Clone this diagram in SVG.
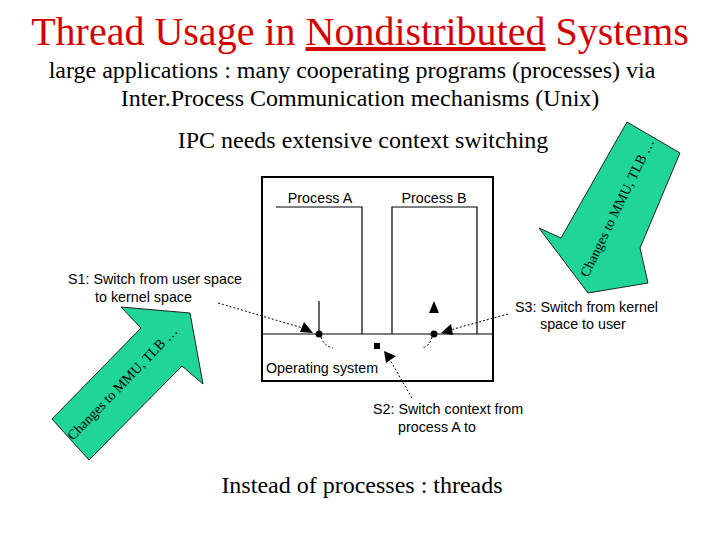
<svg xmlns="http://www.w3.org/2000/svg" width="720" height="540" viewBox="0 0 720 540">
<defs>
<style>
.serif{font-family:"Liberation Serif","Times New Roman",serif;fill:#000}
.sans{font-family:"Liberation Sans",Arial,sans-serif;fill:#000;font-size:14.3px}
.thin{fill:none;stroke:#000;stroke-width:1.2}
.dot{fill:none;stroke:#000;stroke-width:1;stroke-dasharray:2 2}
.green{fill:#1fd598;stroke:#222;stroke-width:1}
</style>
</defs>
<rect width="720" height="540" fill="#fff"/>
<g id="title">
<text class="serif" x="360" y="45" text-anchor="middle" font-size="40" style="fill:#d40000">Thread Usage in <tspan text-decoration="underline">Nondistributed</tspan> Systems</text>
<text class="serif" x="352" y="78" text-anchor="middle" font-size="24">large applications : many cooperating programs (processes) via</text>
<text class="serif" x="360" y="106" text-anchor="middle" font-size="24">Inter.Process Communication mechanisms (Unix)</text>
<text class="serif" x="363" y="148" text-anchor="middle" font-size="24">IPC needs extensive context switching</text>
<text class="serif" x="362" y="493" text-anchor="middle" font-size="24">Instead of processes : threads</text>
</g>
<g id="arrow-left">
<polygon class="green" points="52,419 141,328 121,307 190,313 203,384 182,366 89,460"/>
<text class="serif" font-size="14" transform="translate(73,441) rotate(-46)">Changes to MMU, TLB …</text>
</g>
<g id="arrow-right">
<polygon class="green" points="627,122 680,153 640,248 648,283 588,293 539,228 561,238"/>
<text class="serif" font-size="14" transform="translate(588,278) rotate(-64)">Changes to MMU, TLB …</text>
</g>
<g id="system-box">
<rect x="262" y="177" width="231" height="204" fill="none" stroke="#000" stroke-width="2"/>
<line class="thin" x1="262" y1="334" x2="493" y2="334"/>
<text class="sans" x="266" y="373">Operating system</text>
</g>
<g id="process-a">
<polyline class="thin" points="276,207 362,207 362,334"/>
<text class="sans" x="320" y="203" text-anchor="middle">Process A</text>
</g>
<g id="process-b">
<polyline class="thin" points="392,334 392,207 477,207 477,334"/>
<text class="sans" x="434" y="203" text-anchor="middle">Process B</text>
</g>
<g id="labels">
<text class="sans" x="68" y="284">S1: Switch from user space</text>
<text class="sans" x="95" y="302">to kernel space</text>
<text class="sans" x="515" y="312">S3: Switch from kernel</text>
<text class="sans" x="540" y="329">space to user</text>
<text class="sans" x="373" y="414">S2: Switch context from</text>
<text class="sans" x="398" y="432">process A to</text>
</g>
<g id="connectors">
<line class="thin" x1="319" y1="301" x2="319" y2="334"/>
<circle cx="319" cy="334" r="3.5" fill="#000"/>
<circle cx="434" cy="334" r="3.5" fill="#000"/>
<rect x="374" y="343" width="6" height="6" fill="#000"/>
<line class="dot" x1="218" y1="303" x2="306" y2="329"/>
<polygon points="313,333 300,332 304,322" fill="#000"/>
<line class="dot" x1="508" y1="314" x2="450" y2="330"/>
<polygon points="441,333 451,324 453,335" fill="#000"/>
<polygon points="434,301 429,313 439,313" fill="#000"/>
<line class="dot" x1="412" y1="398" x2="390" y2="360"/>
<polygon points="384,351 396,356 386,363" fill="#000"/>
<path class="dot" d="M321,337 Q324,346 333,348"/>
<path class="dot" d="M432,337 Q430,346 422,348"/>
</g>
</svg>
